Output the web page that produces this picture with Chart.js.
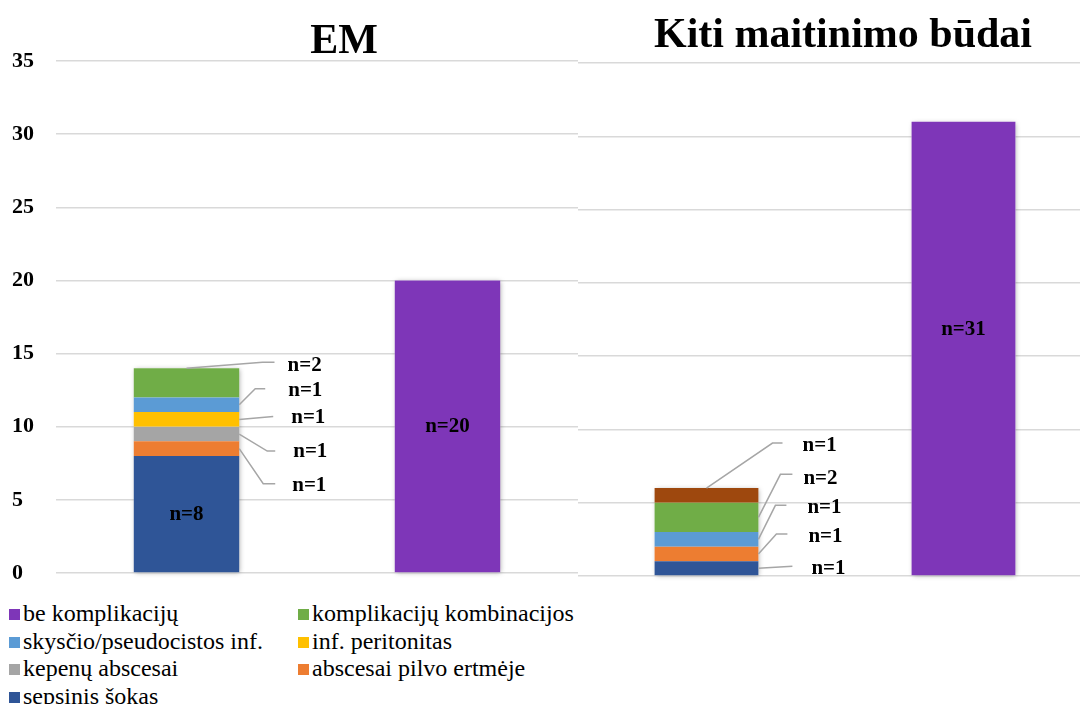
<!DOCTYPE html>
<html>
<head>
<meta charset="utf-8">
<script src="https://cdn.jsdelivr.net/npm/chart.js@4.4.0/dist/chart.umd.min.js"></script>
<style>
  body { margin: 0; background: #fff; width: 1080px; height: 704px; overflow: hidden; position: relative; }
  #emWrap { position: absolute; left: 0; top: 0; width: 578px; height: 600px; }
  #kitiWrap { position: absolute; left: 578px; top: 0; width: 514px; height: 600px; }
  #legend { position: absolute; left: 9px; top: 600px; display: grid; grid-template-columns: 289px 300px;
            font-family: "Liberation Serif", "Times New Roman", serif; font-size: 24px; line-height: 27.7px; color: #000; }
  #legend span.box { display: inline-block; width: 11px; height: 11px; margin-right: 3px; vertical-align: 1px; }
</style>
</head>
<body>
<div id="emWrap"><canvas id="emChart"></canvas></div>
<div id="kitiWrap"><canvas id="kitiChart"></canvas></div>
<div id="legend"></div>
<script>
// panels and bars
const panelTitles = ["EM", "Kiti maitinimo būdai"];
const barGroups = ["su komplikacijomis", "be komplikacijų"];

// series, bottom of the stack first
const series = ["sepsinis šokas", "abscesai pilvo ertmėje", "kepenų abscesai", "inf. peritonitas",
                "skysčio/pseudocistos inf.", "komplikacijų kombinacijos", "kitos komplikacijos", "be komplikacijų"];
const seriesColors = ["#2F5597", "#ED7D31", "#A5A5A5", "#FFC000", "#5B9BD5", "#70AD47", "#9E480E", "#7E36B8"];
const legendHidden = ["kitos komplikacijos"];

// counts (n)
const emValues   = [8, 1, 1, 1, 1, 2, 0, 20];
const kitiValues = [1, 1, 0, 0, 1, 2, 1, 31];

const yMax = 35;
const yStep = 5;

const FONT = '"Liberation Serif", "Times New Roman", serif';

function buildDatasets(values) {
  return series.map((name, i) => ({
    label: name,
    data: i === series.length - 1 ? [null, values[i] || null] : [values[i] || null, null],
    backgroundColor: seriesColors[i],
    borderWidth: 0,
    stack: "s",
    barPercentage: 0.404,
    categoryPercentage: 1
  }));
}

// title, shadow behind the stacks, n= labels with leader lines
const panelPlugin = {
  id: "panel",
  beforeDatasetsDraw(chart) {
    const ctx = chart.ctx;
    ctx.save();
    ctx.shadowColor = "rgba(0,0,0,0.35)";
    ctx.shadowBlur = 5;
    ctx.shadowOffsetX = 1;
    ctx.shadowOffsetY = 1;
    ctx.fillStyle = "#fff";
    for (let idx = 0; idx < barGroups.length; idx++) {
      let top = Infinity, base = null, x = 0, w = 0;
      chart.data.datasets.forEach((ds, di) => {
        if (!ds.data[idx]) return;
        const bar = chart.getDatasetMeta(di).data[idx];
        top = Math.min(top, bar.y);
        base = base === null ? bar.base : Math.max(base, bar.base);
        x = bar.x; w = bar.width;
      });
      if (base !== null) ctx.fillRect(x - w / 2, top, w, base - top);
    }
    ctx.restore();
  },
  afterDatasetsDraw(chart, args, opts) {
    const ctx = chart.ctx;
    ctx.save();
    ctx.font = "bold 21px " + FONT;
    ctx.fillStyle = "#000";
    ctx.textBaseline = "middle";
    chart.data.datasets.forEach((ds, di) => {
      const meta = chart.getDatasetMeta(di);
      meta.data.forEach((bar, idx) => {
        const v = ds.data[idx];
        if (!v) return;
        const text = "n=" + v;
        const lead = opts.leaders[di];
        if (lead && idx === 0) {
          const ax = lead.top ? bar.x : bar.x + bar.width / 2;
          const ay = lead.top ? bar.y : (bar.y + bar.base) / 2;
          ctx.strokeStyle = "#A6A6A6";
          ctx.lineWidth = 1.5;
          ctx.beginPath();
          ctx.moveTo(ax, ay);
          ctx.lineTo(ax + lead.p[0], ay + lead.p[1]);
          ctx.lineTo(ax + lead.p[2], ay + lead.p[3]);
          ctx.stroke();
          ctx.textAlign = "left";
          ctx.fillText(text, ax + lead.p[4], ay + lead.p[5]);
        } else {
          ctx.textAlign = "center";
          ctx.fillText(text, bar.x, (bar.y + bar.base) / 2 + (opts.innerDy || 0));
        }
      });
    });
    ctx.font = "bold 42px " + FONT;
    ctx.textAlign = "center";
    ctx.textBaseline = "alphabetic";
    ctx.fillText(opts.title, opts.titleX, opts.titleY);
    ctx.restore();
  }
};

function makeChart(id, values, panelOpts, showTicks, padding) {
  return new Chart(document.getElementById(id), {
    type: "bar",
    data: { labels: barGroups, datasets: buildDatasets(values) },
    options: {
      responsive: true,
      maintainAspectRatio: false,
      animation: false,
      layout: { padding: padding },
      plugins: {
        legend: { display: false },
        tooltip: { enabled: false },
        panel: panelOpts
      },
      scales: {
        x: { stacked: true, display: false },
        y: {
          stacked: true,
          min: 0, max: yMax,
          ticks: {
            display: showTicks, stepSize: yStep, padding: 0, crossAlign: "far",
            color: "#000", font: { family: FONT, size: 22, weight: "bold" }
          },
          grid: { color: "#D9D9D9", lineWidth: 1.5, drawTicks: false },
          border: { display: false },
          afterFit(scale) { scale.width = showTicks ? 44 : 0; }
        }
      }
    },
    plugins: [panelPlugin]
  });
}

makeChart("emChart", emValues, {
  title: panelTitles[0], titleX: 344, titleY: 53,
  leaders: {
    1: { p: [24, 35, 36, 35, 53, 37] },
    2: { p: [28, 17, 36, 17, 54, 18] },
    3: { p: [34, -3, 34, -3, 52, -2] },
    4: { p: [16, -16, 26, -16, 49, -14] },
    5: { top: true, p: [76, -6, 88, -6, 101, -3] }
  }
}, true, { top: 61, bottom: 27, left: 12, right: 0 });

makeChart("kitiChart", kitiValues, {
  title: panelTitles[1], titleX: 265, titleY: 47, innerDy: -19,
  leaders: {
    0: { p: [34, -2, 34, -2, 53, 0] },
    1: { p: [18, -20, 29, -20, 50, -17] },
    4: { p: [17, -34, 28, -34, 49, -32] },
    5: { p: [22, -43, 34, -43, 45, -39] },
    6: { top: true, p: [66, -45, 76, -45, 96, -42] }
  }
}, false, { top: 63, bottom: 24, left: 0, right: 0 });

// legend: top of stack first, read left to right
const legendEl = document.getElementById("legend");
series.map((name, i) => ({ name, color: seriesColors[i] }))
  .reverse()
  .filter(item => !legendHidden.includes(item.name))
  .forEach(item => {
    const div = document.createElement("div");
    const box = document.createElement("span");
    box.className = "box";
    box.style.background = item.color;
    div.appendChild(box);
    div.appendChild(document.createTextNode(item.name));
    legendEl.appendChild(div);
  });
</script>
</body>
</html>
